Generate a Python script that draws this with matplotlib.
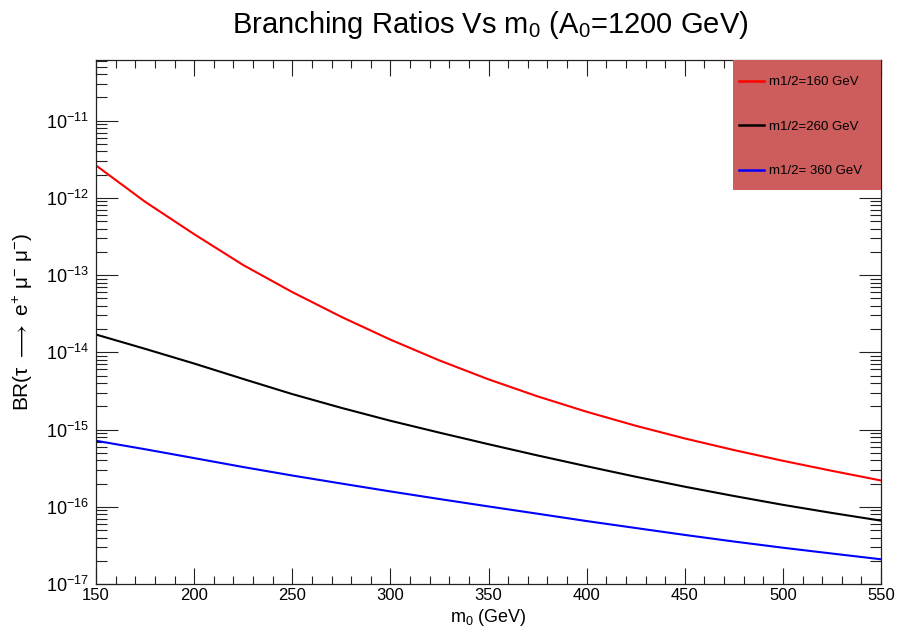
import matplotlib
matplotlib.use("Agg")
import matplotlib.pyplot as plt
from matplotlib.patches import Rectangle
from matplotlib.ticker import LogLocator, MultipleLocator, LogFormatterMathtext

# ---------------- data ----------------
m0 = [150, 175, 200, 225, 250, 275, 300, 325, 350, 375, 400, 425, 450, 475, 500, 525, 550]
br_160 = [2.63e-12, 8.91e-13, 3.39e-13, 1.35e-13, 6.03e-14, 2.88e-14, 1.46e-14, 7.85e-15, 4.47e-15,
          2.69e-15, 1.70e-15, 1.12e-15, 7.67e-16, 5.43e-16, 3.94e-16, 2.92e-16, 2.19e-16]
br_260 = [1.70e-14, 1.11e-14, 7.16e-15, 4.52e-15, 2.88e-15, 1.91e-15, 1.30e-15, 9.12e-16, 6.46e-16,
          4.62e-16, 3.35e-16, 2.45e-16, 1.82e-16, 1.38e-16, 1.06e-16, 8.32e-17, 6.61e-17]
br_360 = [7.16e-16, 5.56e-16, 4.27e-16, 3.27e-16, 2.54e-16, 2.0e-16, 1.58e-16, 1.26e-16, 1.01e-16,
          8.13e-17, 6.53e-17, 5.31e-17, 4.32e-17, 3.55e-17, 2.95e-17, 2.48e-17, 2.09e-17]
labels = ["m1/2=160 GeV", "m1/2=260 GeV", "m1/2= 360 GeV"]
colors = ["#ff0000", "#000000", "#0000ff"]

plt.rcParams["font.family"] = ["Liberation Sans", "DejaVu Sans"]
plt.rcParams["mathtext.fontset"] = "custom"
plt.rcParams["mathtext.rm"] = "Liberation Sans"
plt.rcParams["mathtext.it"] = "Liberation Sans"
plt.rcParams["mathtext.bf"] = "Liberation Sans:bold"

fig = plt.figure(figsize=(9, 6.44), dpi=100)
ax = fig.add_axes([96/900, 1-584/644, (881-96)/900, (584-60)/644])

for y, lab, c in zip([br_160, br_260, br_360], labels, colors):
    ax.plot(m0, y, color=c, lw=1.5, label=lab, solid_joinstyle="round")

ax.set_yscale("log")
ax.set_xlim(150, 550)
ax.set_ylim(1e-17, 6.1e-11)

ax.xaxis.set_major_locator(MultipleLocator(50))
ax.xaxis.set_minor_locator(MultipleLocator(10))
ax.yaxis.set_major_locator(LogLocator(base=10, numticks=20))
ax.yaxis.set_minor_locator(LogLocator(base=10, subs=range(2, 10), numticks=20))
ax.yaxis.set_major_formatter(LogFormatterMathtext())

ax.tick_params(axis="both", which="both", direction="in", top=True, right=True, color="#222222")
ax.tick_params(axis="x", which="major", length=11.5, width=0.8, labelsize=12, pad=3)
ax.tick_params(axis="x", which="minor", length=6, width=0.8)
ax.tick_params(axis="y", which="major", length=16, width=0.8, labelsize=13, pad=5)
ax.tick_params(axis="y", which="minor", length=8, width=0.8)
ax.tick_params(axis="y", which="minor", labelleft=False)

for s in ax.spines.values():
    s.set_linewidth(0.9)
    s.set_color("#222222")

ax.set_xlabel(r"m$_{0}$ (GeV)", fontsize=13, labelpad=3)
ax.set_ylabel(r"BR(τ $\longrightarrow$ e$^{+}$ μ$^{-}$ μ$^{-}$)", fontsize=15, labelpad=8)
fig.text(490/900, 1-33/644, r"Branching Ratios Vs m$_{0}$ (A$_{0}$=1200 GeV)",
         fontsize=21, ha="center", va="baseline")

# legend background box (drawn inside the axes so the legend can sit above it)
ax.add_patch(Rectangle((733/900, 1-190/644), 148/900, 130/644,
                       transform=fig.transFigure, facecolor="#cd5c5c",
                       edgecolor="none", zorder=5, clip_on=False))
leg = ax.legend(loc="upper left", bbox_to_anchor=(739/900, 1-76/644),
                bbox_transform=fig.transFigure, frameon=False,
                fontsize=9.5, handlelength=1.9, handletextpad=0.4, labelspacing=2.45,
                borderpad=0, borderaxespad=0)
leg.set_zorder(6)
for line in leg.get_lines():
    line.set_linewidth(1.8)

fig.savefig("out.png", dpi=100)
